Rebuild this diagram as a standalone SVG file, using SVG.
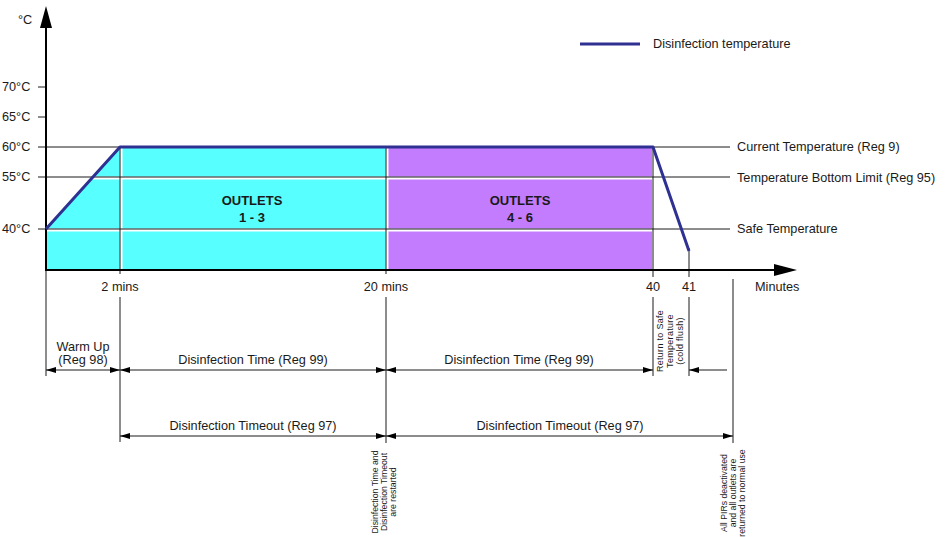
<svg xmlns="http://www.w3.org/2000/svg" width="948" height="537" viewBox="0 0 948 537">
<style>
text{font-family:"Liberation Sans",Arial,sans-serif;font-size:12.7px;fill:#1a1a1a}
.sm{font-size:8.7px}
.rs{font-size:9px;letter-spacing:0.3px}
.b{font-weight:bold;font-size:13px}
.ln{stroke:#1a1a1a;stroke-width:1;fill:none}
.wh{stroke:#fff;stroke-width:3;fill:none}
.ax{stroke:#000;stroke-width:2;fill:none}
.dim{stroke:#1a1a1a;stroke-width:1;fill:none;marker-start:url(#a);marker-end:url(#a)}
</style>
<defs>
<marker id="a" viewBox="0 0 10 6" refX="10" refY="3" markerWidth="10" markerHeight="6" markerUnits="userSpaceOnUse" orient="auto-start-reverse">
<path d="M0,0 L10,3 L0,6 z" fill="#000"/>
</marker>
</defs>
<rect width="948" height="537" fill="#fff"/>
<g id="fills">
<polygon points="46,229 120,147 386,147 386,270 46,270" fill="#57ffff"/>
<rect x="386" y="147" width="266" height="123" fill="#c47cff"/>
</g>
<g id="grid">
<line class="wh" x1="46" y1="178" x2="652" y2="178"/>
<line class="wh" x1="46" y1="230" x2="652" y2="230"/>
<line class="wh" x1="121" y1="148" x2="121" y2="269"/>
<line class="wh" x1="387" y1="148" x2="387" y2="269"/>
<line class="ln" x1="38" y1="147" x2="730" y2="147"/>
<line class="ln" x1="38" y1="177" x2="730" y2="177"/>
<line class="ln" x1="38" y1="229" x2="730" y2="229"/>
<line class="ln" x1="38" y1="87" x2="46" y2="87"/>
<line class="ln" x1="38" y1="117" x2="46" y2="117"/>
<line class="ln" x1="120" y1="147" x2="120" y2="274"/>
<line class="ln" x1="120" y1="297" x2="120" y2="442"/>
<line class="ln" x1="386" y1="147" x2="386" y2="274"/>
<line class="ln" x1="386" y1="297" x2="386" y2="443"/>
<line class="ln" x1="653" y1="147" x2="653" y2="277"/>
<line class="ln" x1="653" y1="297" x2="653" y2="376"/>
<line class="ln" x1="689" y1="248" x2="689" y2="277"/>
<line class="ln" x1="689" y1="297" x2="689" y2="376"/>
<line class="ln" x1="733" y1="279" x2="733" y2="443"/>
<line class="ln" x1="46" y1="270" x2="46" y2="376"/>
</g>
<g id="axes">
<line class="ax" x1="46" y1="27" x2="46" y2="271"/>
<polygon points="46,6 40,28 52,28" fill="#000"/>
<line class="ax" x1="45" y1="270" x2="776" y2="270"/>
<polygon points="797,270 774,264 774,276" fill="#000"/>
</g>
<g id="curve">
<polyline points="46,229 120,147 653,147 689,251" fill="none" stroke="#2e3192" stroke-width="3" stroke-linejoin="round"/>
</g>
<g id="legend">
<line x1="580" y1="44" x2="640" y2="44" stroke="#2e3192" stroke-width="3"/>
<text x="653" y="48">Disinfection temperature</text>
</g>
<g id="ylabels">
<text x="18" y="24">°C</text>
<text x="2" y="91">70°C</text>
<text x="2" y="121">65°C</text>
<text x="2" y="151">60°C</text>
<text x="2" y="181">55°C</text>
<text x="2" y="233">40°C</text>
</g>
<g id="rlabels">
<text x="737" y="151">Current Temperature (Reg 9)</text>
<text x="737" y="182">Temperature Bottom Limit (Reg 95)</text>
<text x="737" y="233">Safe Temperature</text>
</g>
<g id="outlets">
<text class="b" x="252" y="205" text-anchor="middle">OUTLETS</text>
<text class="b" x="252" y="222" text-anchor="middle">1 - 3</text>
<text class="b" x="520" y="205" text-anchor="middle">OUTLETS</text>
<text class="b" x="520" y="222" text-anchor="middle">4 - 6</text>
</g>
<g id="xlabels">
<text x="120" y="291" text-anchor="middle">2 mins</text>
<text x="386" y="291" text-anchor="middle">20 mins</text>
<text x="653" y="291" text-anchor="middle">40</text>
<text x="689" y="291" text-anchor="middle">41</text>
<text x="755" y="291">Minutes</text>
</g>
<g id="connectors">
<line class="dim" x1="46" y1="370" x2="120" y2="370"/>
<line class="dim" x1="120" y1="370" x2="386" y2="370"/>
<line class="dim" x1="386" y1="370" x2="653" y2="370"/>
<line x1="727" y1="370" x2="689" y2="370" class="ln" marker-end="url(#a)"/>
<line class="dim" x1="120" y1="436" x2="386" y2="436"/>
<line class="dim" x1="386" y1="436" x2="733" y2="436"/>
</g>
<g id="dimlabels">
<text x="83" y="351" text-anchor="middle">Warm Up</text>
<text x="83" y="364" text-anchor="middle">(Reg 98)</text>
<text x="253" y="364" text-anchor="middle">Disinfection Time (Reg 99)</text>
<text x="519" y="364" text-anchor="middle">Disinfection Time (Reg 99)</text>
<text x="253" y="430" text-anchor="middle">Disinfection Timeout (Reg 97)</text>
<text x="560" y="430" text-anchor="middle">Disinfection Timeout (Reg 97)</text>
</g>
<g id="notes">
<text class="rs" transform="translate(663,341) rotate(-90)" text-anchor="middle"><tspan x="0" y="0">Return to Safe</tspan><tspan x="0" y="10">Temperature</tspan><tspan x="0" y="20">(cold flush)</tspan></text>
<text class="sm" transform="translate(378,492) rotate(-90)" text-anchor="middle"><tspan x="0" y="0">Disinfection Time and</tspan><tspan x="0" y="9">Disinfection Timeout</tspan><tspan x="0" y="18">are restarted</tspan></text>
<text class="sm" transform="translate(727,493) rotate(-90)" text-anchor="middle"><tspan x="0" y="0">All PIRs deactivated</tspan><tspan x="0" y="9">and all outlets are</tspan><tspan x="0" y="18">returned to normal use</tspan></text>
</g>
</svg>
